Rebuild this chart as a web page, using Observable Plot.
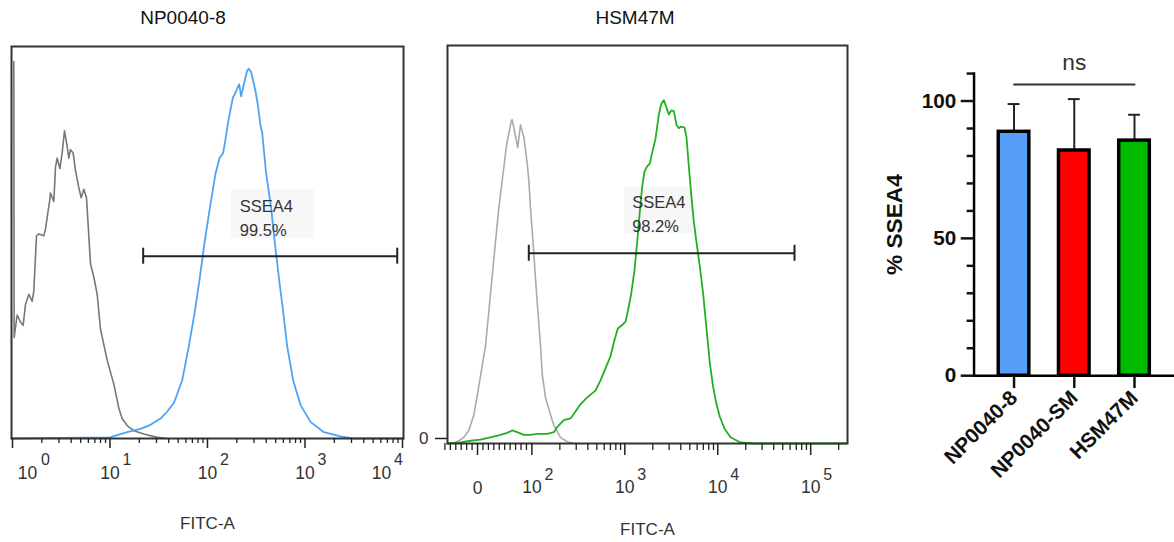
<!DOCTYPE html>
<html><head><meta charset="utf-8">
<script src="https://cdn.jsdelivr.net/npm/d3@7"></script>
<script src="https://cdn.jsdelivr.net/npm/@observablehq/plot@0.6"></script>
<style>
html,body{margin:0;padding:0;background:#fff;}
#root{position:relative;width:1174px;height:542px;overflow:hidden;font-family:"Liberation Sans",Arial,sans-serif;}
.panel{position:absolute;top:0;}
.title{position:absolute;top:6px;width:200px;font-size:19px;line-height:24px;color:#111;text-align:center;}
</style></head><body>
<div id="root">
  <div class="title" style="left:83px">NP0040-8</div>
  <div class="title" style="left:535px">HSM47M</div>
  <div class="panel" id="p1" style="left:0px"></div>
  <div class="panel" id="p2" style="left:420px"></div>
  <div class="panel" id="p3" style="left:860px"></div>
</div>
<script>
// ---------- Panel 1: NP0040-8 histogram (FITC-A, log scale) ----------
const np8IsoX = [1.032,1.04,1.117,1.208,1.286,1.359,1.471,1.591,1.655,1.763,1.863,2.096,2.181,2.415,2.453,2.654,2.761,2.872,3.059,3.232,3.415,3.637,3.783,3.935,4.19,4.428,4.79,5.063,5.391,5.741,6.066,6.31,6.83,7.385,7.99,9.35,10.95,12.32,13.33,15.0,17.56,22.2,30.5,38.6];
const np8IsoY = [101.9,27.3,33.4,31.5,30.6,36.2,39.0,37.1,39.9,54.8,55.3,54.8,56.7,64.6,66.4,64.1,73.4,75.8,73.0,77.2,83.2,79.0,75.8,78.1,77.2,72.5,67.8,65.1,67.4,65.1,54.8,47.3,43.6,39.0,29.6,21.2,14.7,8.2,5.4,3.5,2.1,1.2,0.3,0];
const np8SseaX = [0.98,10.1,11.85,15.0,20.55,26.0,33.0,38.6,45.2,55.0,64.4,74.1,83.5,93.2,105.7,120.8,132.7,144.8,152.9,162.9,181.9,193.7,211.3,221.4,235.9,255.2,265.4,280.5,310.7,328.4,349.7,363.7,399.7,449.8,490.5,539.2,597.2,656.2,756.2,899,1139,1560,2312,3170,10240];
const np8SseaY = [0,0.3,0.9,1.7,2.6,3.7,5.4,7.3,9.6,15.7,25.0,34.3,43.6,52.9,62.3,71.6,75.8,77.2,80.9,85.6,92.1,93.5,95.8,92.5,95.8,99.5,100,99.1,93.9,90.2,84.6,82.8,71.6,62.3,52.9,43.6,34.3,25.0,15.7,9.1,4.5,1.7,0.6,0,0];
const np8Gate = [21.9, 8830];
const np8GateY = 49.3;
const np8Label = {x: 214.5, y: 65.9, text: "SSEA4\n99.5%", x1: 176, x2: 1252, y1: 54.1, y2: 67.3};
const p1Decades = [1, 10, 100, 1000, 10000];

// ---------- Panel 2: HSM47M histogram (FITC-A, biexponential) ----------
const hsmIsoX = [-52.8,-43.6,-34.4,-25.2,-16,-6.8,4.2,14.7,20.8,26.9,33,39.2,47.1,53.3,61.9,63.7,74.1,79,85.2,91.3,94.4,97.4,103,109,116,124,129,140,159,172,203,240,283];
const hsmIsoY = [0,0.1,0.8,1.8,3.8,8.3,18.4,28.4,38.5,48.5,58.6,68.6,78.7,86.7,93.8,94.3,86.2,92.8,89.2,81.7,76.7,68.6,58.6,48.5,38.5,28.4,20.4,13.4,8.3,5.3,1.8,0.5,0];
const hsmSseaX = [-55.9,-31.3,-12.9,5.5,23.8,42.2,54.5,63.7,72.9,85.2,97.4,113.9,146,172.2,187.1,220.6,260.3,294.6,333.4,393.2,483.5,547.2,619.4,701.2,761.4,840.8,936.3,1017,1077,1170,1271,1358,1439,1537,1628,1739,1858,1969,2138,2322,2460,2629,2808,2975,3152,3367,3597,3811,4038,4386,4608,4884,5174,5527,5905,6413,6966,7564,8216,8925,9692,10527,11822,13713,17562,24443,240000];
const hsmSseaY = [0,0.3,0.8,1.1,1.8,2.5,3.1,3.8,3.3,2.5,2.5,2.8,2.8,3.3,4.8,6.8,7.3,9.3,11.4,13.4,15.4,18.4,21.9,25.4,29.4,33.5,34.5,35.5,38.5,43.5,50.5,58.6,66.6,74.7,79.2,80.7,81.5,84.7,88.7,95.8,98.8,100,97.8,95.8,97,96.8,92.8,91.8,92.3,92,89.2,80.7,72.7,64.6,58.6,51.6,43.5,33.5,23.4,16.4,11.4,7.8,4.3,1.8,0.3,0,0];
const hsmGate = [94.3, 66950];
const hsmGateY = 55.4;
const hsmLabel = {x: 1200, y: 73.6, text: "SSEA4\n98.2%", x1: 992, x2: 5524, y1: 61.1, y2: 74.7};
const p2Decades = [100, 1000, 10000, 100000];

// ---------- Panel 3: % SSEA4 bar chart ----------
const groups = ["NP0040-8", "NP0040-SM", "HSM47M"];
const means = [88.8, 82.0, 85.6];
const sds = [10.1, 18.7, 9.4];
const barColors = ["#579ef8", "#fe0000", "#00ba00"];
const nsY = 106;
const yMajor = [0, 50, 100];
const yMinor = [10, 20, 30, 40, 60, 70, 80, 90, 110];

const zip = (xs, ys) => xs.map((x, i) => ({x, y: ys[i]}));
const FONT = "'Liberation Sans', Arial, sans-serif";
const expOf = d => String(Math.round(Math.log10(d)));
const lab = (data, x, dx, dy, text, size) =>
  Plot.text(data, {x, frameAnchor: "bottom", lineAnchor: "middle", dx, dy, text, fontSize: size, fill: "#333"});

// ----- Panel 1 -----
const p1Minor = [];
for (const d of [1, 10, 100, 1000]) for (let k = 2; k <= 9; k++) p1Minor.push(d * k);

const p1 = Plot.plot({
  width: 420, height: 542,
  marginLeft: 11, marginRight: 17, marginTop: 46, marginBottom: 104,
  style: {fontFamily: FONT, color: "#333", background: "transparent", overflow: "visible"},
  x: {type: "log", domain: [0.977, 10240]},
  y: {domain: [0, 106], axis: null},
  marks: [
    Plot.rect([np8Label], {x1: "x1", x2: "x2", y1: "y1", y2: "y2", fill: "#f7f7f7"}),
    Plot.line(zip(np8IsoX, np8IsoY), {x: "x", y: "y", stroke: "#777", strokeWidth: 1.6}),
    Plot.line(zip(np8SseaX, np8SseaY), {x: "x", y: "y", stroke: "#4ea3f3", strokeWidth: 1.8}),
    Plot.ruleY([np8GateY], {x1: np8Gate[0], x2: np8Gate[1], stroke: "#222", strokeWidth: 2}),
    Plot.ruleX(np8Gate, {y1: np8GateY, y2: np8GateY, insetTop: 8, insetBottom: 8, stroke: "#222", strokeWidth: 2}),
    Plot.text([np8Label], {x: "x", y: "y", text: "text", textAnchor: "start", lineAnchor: "top", lineHeight: 1.45, fontSize: 16.5, fill: "#333"}),
    Plot.frame({stroke: "#333", strokeWidth: 2}),
    Plot.axisX(p1Minor, {tickSize: 5, tickFormat: () => "", label: null, strokeWidth: 1.3, stroke: "#222"}),
    Plot.axisX(p1Decades, {tickSize: 10, tickFormat: () => "", label: null, strokeWidth: 1.5, stroke: "#222"}),
    lab(p1Decades.slice(1, 4), d => d, 0, 35, () => "10", 17.5),
    lab(p1Decades.slice(1, 4), d => d, 17, 21, expOf, 16),
    lab(p1Decades.slice(0, 1), d => d, 15, 35, () => "10", 17.5),
    lab(p1Decades.slice(0, 1), d => d, 33, 21, expOf, 16),
    lab(p1Decades.slice(4), d => d, -21, 35, () => "10", 17.5),
    lab(p1Decades.slice(4), d => d, -4, 21, expOf, 16),
    Plot.text(["FITC-A"], {frameAnchor: "bottom", lineAnchor: "middle", dy: 85, fontSize: 17, fill: "#333"})
  ]
});
document.getElementById("p1").append(p1);

// ----- Panel 2 -----
const biex = v => v >= 100 ? Math.log10(v) : 2 - (100 - v) * 0.00585;
const p2Minor = [];
for (let v = -60; v <= 90; v += 10) if (v !== 0) p2Minor.push(v);
for (const d of [100, 1000, 10000]) for (let k = 2; k <= 9; k++) p2Minor.push(d * k);
p2Minor.push(200000);
const p2Ticks = [0, ...p2Decades];

const p2 = Plot.plot({
  width: 440, height: 542,
  marginLeft: 27, marginRight: 13, marginTop: 45, marginBottom: 99,
  style: {fontFamily: FONT, color: "#333", background: "transparent", overflow: "visible"},
  x: {domain: [1.092, 5.396]},
  y: {domain: [0, 115.9]},
  marks: [
    Plot.rect([hsmLabel], {x1: d => biex(d.x1), x2: d => biex(d.x2), y1: "y1", y2: "y2", fill: "#f7f7f7"}),
    Plot.line(zip(hsmIsoX, hsmIsoY), {x: d => biex(d.x), y: "y", stroke: "#aaa", strokeWidth: 1.6}),
    Plot.line(zip(hsmSseaX, hsmSseaY), {x: d => biex(d.x), y: "y", stroke: "#22b022", strokeWidth: 1.8}),
    Plot.ruleY([hsmGateY], {x1: biex(hsmGate[0]), x2: biex(hsmGate[1]), stroke: "#222", strokeWidth: 2}),
    Plot.ruleX(hsmGate.map(biex), {y1: hsmGateY, y2: hsmGateY, insetTop: 8, insetBottom: 8, stroke: "#222", strokeWidth: 2}),
    Plot.text([hsmLabel], {x: d => biex(d.x), y: "y", text: "text", textAnchor: "start", lineAnchor: "top", lineHeight: 1.45, fontSize: 16.5, fill: "#333"}),
    Plot.frame({stroke: "#333", strokeWidth: 2}),
    Plot.axisY([0], {tickSize: 12, tickPadding: 7, dy: -5, fontSize: 17, label: null, stroke: "#222", strokeWidth: 1.5}),
    Plot.axisX(p2Minor.map(biex), {tickSize: 7, tickFormat: () => "", label: null, strokeWidth: 1.3, stroke: "#222"}),
    Plot.axisX(p2Ticks.map(biex), {tickSize: 12, tickFormat: () => "", label: null, strokeWidth: 1.5, stroke: "#222"}),
    lab([0], biex, 0, 45, () => "0", 17.5),
    lab(p2Decades, biex, 0, 44, () => "10", 17.5),
    lab(p2Decades, biex, 17, 31, expOf, 16),
    Plot.text(["FITC-A"], {frameAnchor: "bottom", lineAnchor: "middle", dy: 86, fontSize: 17, fill: "#333"})
  ]
});
document.getElementById("p2").append(p2);

// ----- Panel 3 -----
const bars = groups.map((g, i) => ({g, mean: means[i], sd: sds[i], color: barColors[i]}));
const p3 = Plot.plot({
  width: 318, height: 542,
  marginLeft: 115, marginRight: 0, marginTop: 74, marginBottom: 162,
  style: {fontFamily: FONT, color: "#111", background: "transparent", overflow: "visible"},
  x: {domain: groups, paddingInner: 0.492, paddingOuter: 0.402, label: null},
  y: {domain: [0, 110], label: null},
  marks: [
    Plot.ruleX(bars, {x: "g", y1: "mean", y2: d => d.mean + d.sd, stroke: "#222", strokeWidth: 2}),
    Plot.tickY(bars, {x: "g", y: d => d.mean + d.sd, insetLeft: 9.5, insetRight: 9.5, stroke: "#222", strokeWidth: 2}),
    Plot.barY(bars, {x: "g", y: "mean", fill: "color", stroke: "#000", strokeWidth: 3.5}),
    Plot.ruleY([0], {stroke: "#000", strokeWidth: 2.5}),
    Plot.frame({anchor: "left", stroke: "#000", strokeWidth: 2.5}),
    Plot.axisY(yMinor, {tickSize: 7, tickFormat: () => "", label: null, strokeWidth: 2.5}),
    Plot.axisY(yMajor, {tickSize: 13, tickPadding: 5, fontSize: 21, fontWeight: "bold", label: null, strokeWidth: 2.5}),
    Plot.axisX({tickSize: 13, tickPadding: 6, tickRotate: -45, fontSize: 21, fontWeight: "bold", label: null, strokeWidth: 2.5}),
    Plot.text(["% SSEA4"], {frameAnchor: "left", textAnchor: "middle", lineAnchor: "middle", rotate: -90, dx: -80, fontSize: 23, fontWeight: "bold", fill: "#111"}),
    Plot.lineY([{g: groups[0], y: nsY}, {g: groups[2], y: nsY}], {x: "g", y: "y", stroke: "#333", strokeWidth: 2}),
    Plot.text([{g: groups[1], y: nsY}], {x: "g", y: "y", text: () => "ns", dy: -22, fontSize: 23, fill: "#333"})
  ]
});
document.getElementById("p3").append(p3);
</script>
</body></html>
